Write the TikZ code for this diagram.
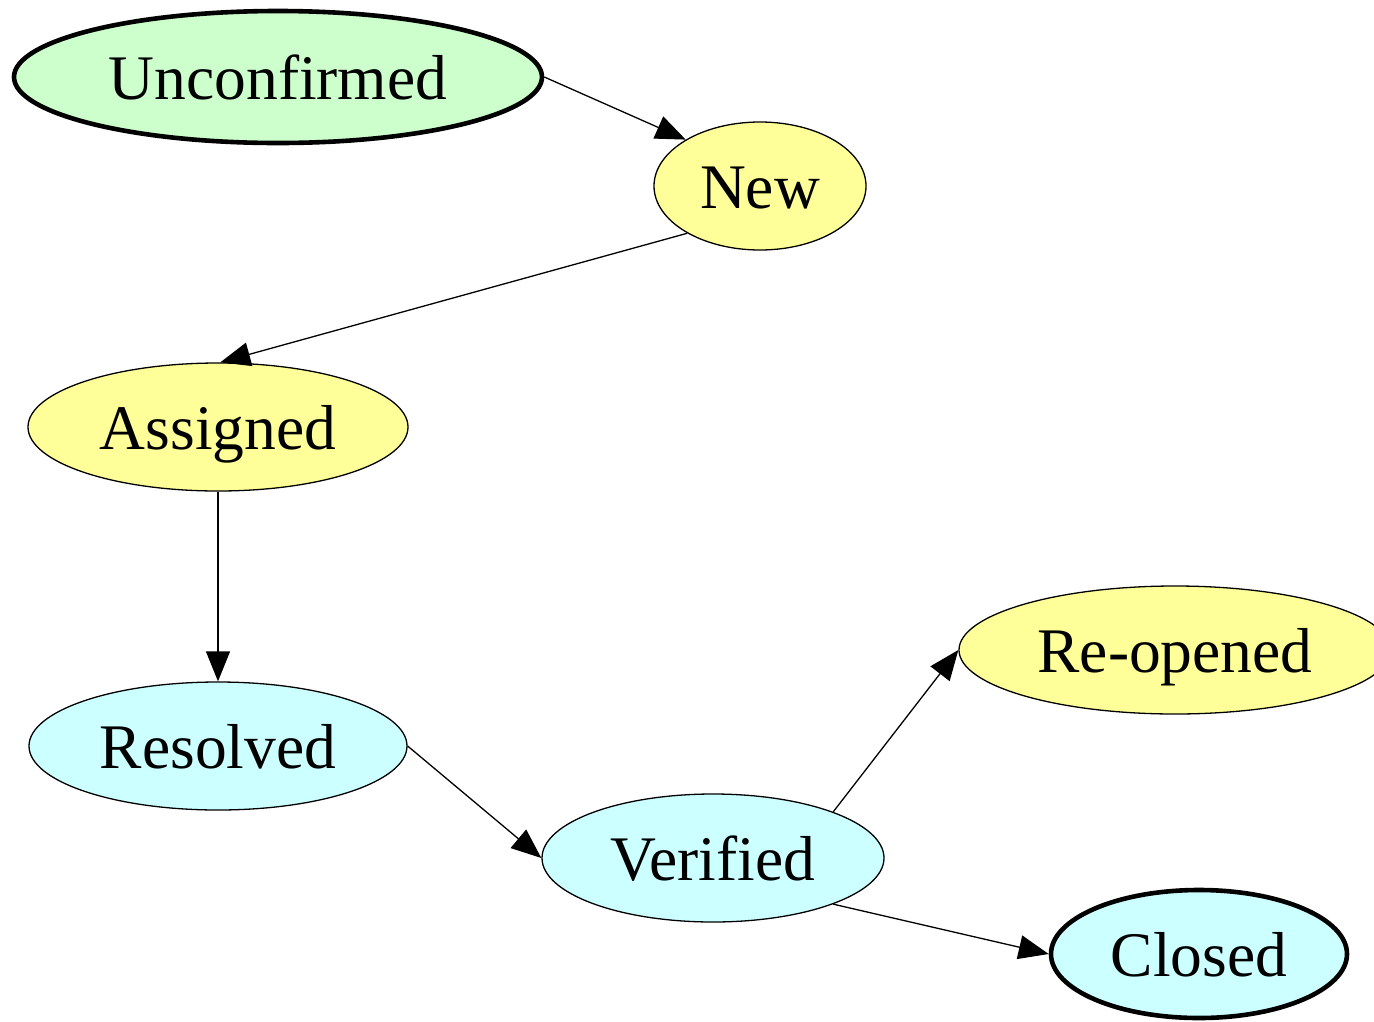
\documentclass[tikz,border=0pt]{standalone}
\usepackage{fontspec}
\setmainfont{Liberation Serif}
\usetikzlibrary{arrows.meta, shapes.geometric}

\definecolor{lgreen}{HTML}{CCFFCC}
\definecolor{lyellow}{HTML}{FFFF99}
\definecolor{lcyan}{HTML}{CCFFFF}

\begin{document}
\begin{tikzpicture}[x=1pt, y=-1pt,
        state/.style={ellipse, draw, line width=1.3pt, inner sep=0pt, minimum height=128pt, text height=44pt, text depth=0pt, font=\fontsize{63.5}{70}\selectfont},
        final/.style={state, line width=4.6pt},
        edge/.style={-{Triangle[length=30pt, width=24pt]}, line width=1.3pt}]
        \useasboundingbox (0,0) rectangle (1374,1021);

        \node[final, fill=lgreen, minimum width=528pt, minimum height=132pt] (unc) at (278,77) {Unconfirmed};
        \node[state, fill=lyellow, minimum width=212pt] (new) at (760,186) {New};
        \node[state, fill=lyellow, minimum width=380pt] (ass) at (218,427) {Assigned};
        \node[state, fill=lcyan, minimum width=378pt] (res) at (218,746) {Resolved};
        \node[state, fill=lcyan, minimum width=342pt] (ver) at (713,858) {Verified};
        \node[state, fill=lyellow, minimum width=432pt] (reo) at (1175,650) {Re-opened};
        \node[final, fill=lcyan, minimum width=296pt] (clo) at (1199,954) {Closed};

        \draw[edge] (unc.east) -- (new.148);
        \draw[edge] (new.213) -- (ass.88);
        \draw[edge] (ass.south) -- (res.north);
        \draw[edge] (res.east) -- (ver.west);
        \draw[edge] (ver.21) -- (reo.west);
        \draw[edge] (ver.-21) -- (clo.west);
    \end{tikzpicture}
\end{document}
